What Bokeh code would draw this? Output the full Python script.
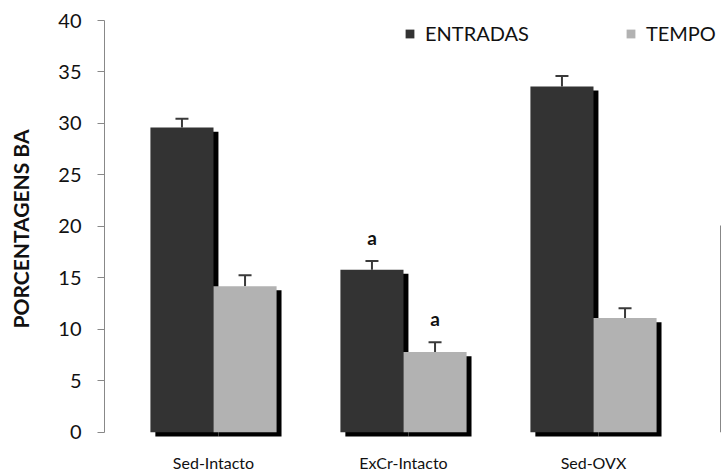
import numpy as np
from bokeh.plotting import figure
from bokeh.models import (ColumnDataSource, Range1d, FixedTicker, Whisker, TeeHead,
                          Legend, LegendItem)
from bokeh.core.properties import value
from bokeh.embed import file_html
from bokeh.resources import INLINE

# Groups and the two measured percentages (mean and error) for each
groups = ["Sed-Intacto", "ExCr-Intacto", "Sed-OVX", "ExCr-OVX"]
entradas = [29.6, 15.8, 33.6, 20.1]
entradas_err = [0.85, 0.85, 1.0, np.nan]
tempo = [14.2, 7.8, 11.1, np.nan]
tempo_err = [1.05, 0.95, 0.95, np.nan]
entradas_marks = ["", "a", "", ""]
tempo_marks = ["", "a", "", ""]
y_ticks = [0, 5, 10, 15, 20, 25, 30, 35, 40]

FONT = "Lato"
DARK = "#333333"
LIGHT = "#b2b2b2"
TEXT = "#111111"
BAR_W = 0.332
SHADOW_DX = 0.026   # drop shadow, right
SHADOW_DY = 0.40    # drop shadow, down

pos = np.arange(len(groups), dtype=float)


def series_source(vals, errs, marks, shift):
    vals = np.asarray(vals, dtype=float)
    errs = np.asarray(errs, dtype=float)
    return ColumnDataSource(dict(
        x=pos + shift,
        top=vals,
        upper=vals + errs,
        lower=vals,
        sx=pos + shift + SHADOW_DX,
        stop=vals - SHADOW_DY,
        sbottom=np.full(len(vals), -SHADOW_DY),
        mark=marks,
    ))


src_e = series_source(entradas, entradas_err, entradas_marks, -BAR_W / 2)
src_t = series_source(tempo, tempo_err, tempo_marks, BAR_W / 2)

p = figure(width=721, height=474, output_backend="svg", toolbar_location=None,
           x_range=Range1d(-0.5737, 2.6737), y_range=Range1d(-0.5, 40),
           min_border_left=104, min_border_right=0, min_border_top=20,
           min_border_bottom=37, background_fill_color="white",
           border_fill_color="white")
p.outline_line_color = None
p.grid.visible = False

# ENTRADAS bars with drop shadow
p.vbar(x="sx", top="stop", bottom="sbottom", width=BAR_W, source=src_e,
       fill_color="black", line_color=None)
r_e = p.vbar(x="x", top="top", bottom=0, width=BAR_W, source=src_e,
             fill_color=DARK, line_color=None)
# TEMPO bars with drop shadow
p.vbar(x="sx", top="stop", bottom="sbottom", width=BAR_W, source=src_t,
       fill_color="black", line_color=None)
r_t = p.vbar(x="x", top="top", bottom=0, width=BAR_W, source=src_t,
             fill_color=LIGHT, line_color=None)

# upper error bars
for src in (src_e, src_t):
    w = Whisker(base="x", upper="upper", lower="lower", source=src,
                line_color="#3a3a3a", line_width=2,
                upper_head=TeeHead(size=13, line_color="#3a3a3a", line_width=2),
                lower_head=None)
    p.add_layout(w)

# significance letters
for src in (src_e, src_t):
    p.text(x="x", y="upper", text="mark", source=src, text_align="center",
           text_baseline="bottom", y_offset=-12, text_font=value(FONT),
           text_font_style="bold", text_font_size="19px", text_color=TEXT)

# axes
p.xaxis.ticker = FixedTicker(ticks=list(pos))
p.xaxis.major_label_overrides = {float(i): g for i, g in enumerate(groups)}
p.xaxis.major_label_overrides.update({int(i): g for i, g in enumerate(groups)})
p.xaxis.axis_line_color = None
p.xaxis.major_tick_line_color = None
p.xaxis.minor_tick_line_color = None
p.xaxis.major_tick_out = 0
p.xaxis.major_tick_in = 0
p.xaxis.major_label_standoff = 15
p.xaxis.major_label_text_font = FONT
p.xaxis.major_label_text_font_size = "16px"
p.xaxis.major_label_text_color = TEXT

p.yaxis.ticker = FixedTicker(ticks=y_ticks)
p.yaxis.bounds = (0, 40)
p.yaxis.axis_line_color = "#888888"
p.yaxis.major_tick_line_color = "#888888"
p.yaxis.major_tick_out = 7
p.yaxis.major_tick_in = 0
p.yaxis.minor_tick_line_color = None
p.yaxis.major_label_standoff = 16
p.yaxis.major_label_text_font = FONT
p.yaxis.major_label_text_font_size = "20px"
p.yaxis.major_label_text_color = TEXT
p.yaxis.axis_label = "PORCENTAGENS BA"
p.yaxis.axis_label_text_font = FONT
p.yaxis.axis_label_text_font_style = "bold"
p.yaxis.axis_label_text_font_size = "21px"
p.yaxis.axis_label_text_color = TEXT
p.yaxis.axis_label_standoff = 22

legend = Legend(items=[LegendItem(label="ENTRADAS", renderers=[r_e]),
                       LegendItem(label="TEMPO", renderers=[r_t])],
                location=(300, 392), orientation="horizontal",
                spacing=96, padding=0, margin=0, glyph_width=11, glyph_height=11,
                label_standoff=10, label_height=20,
                label_text_font=FONT, label_text_font_size="20px",
                label_text_color=TEXT,
                border_line_color=None, background_fill_alpha=0)
p.add_layout(legend)

open("out.html", "w").write(file_html(p, INLINE))
